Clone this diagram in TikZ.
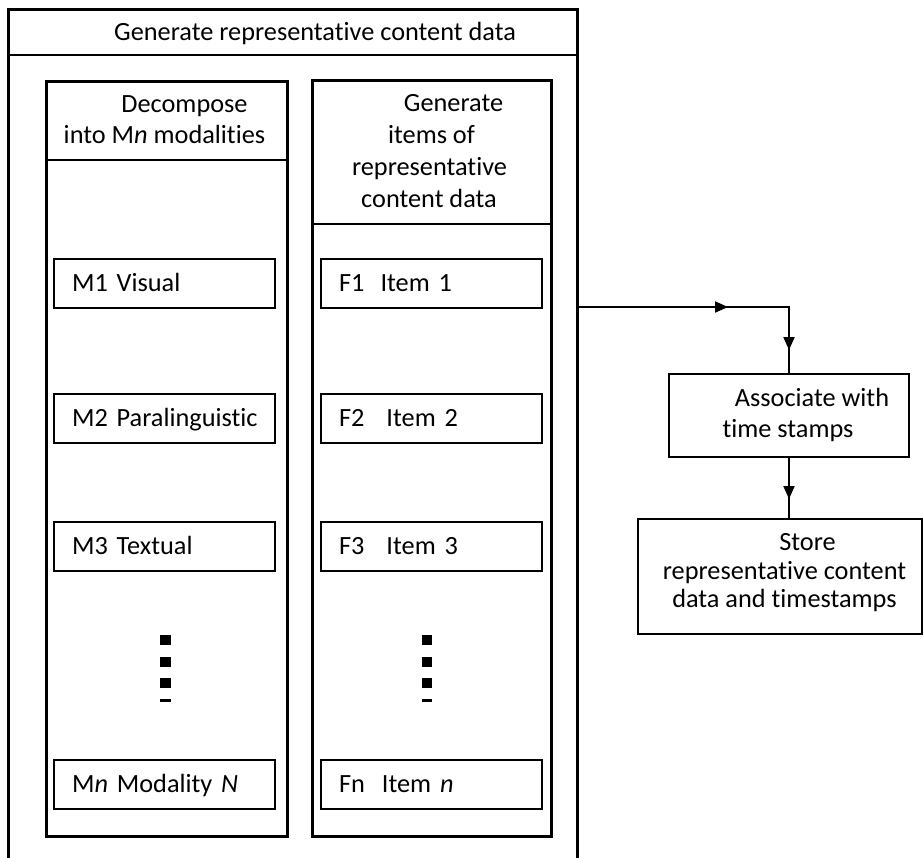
\documentclass[tikz,border=0pt]{standalone}
\usepackage{fontspec}
\setmainfont[Ligatures={NoCommon}]{Carlito}
\usetikzlibrary{arrows.meta,decorations.markings}
\begin{document}
\begin{tikzpicture}[x=1pt,y=-1pt,
  txt/.style={font=\fontsize{26.3}{31}\selectfont, inner sep=0pt, anchor=base},
  colbox/.style={draw, line width=3pt, anchor=north west, inner sep=0pt},
  rule/.style={line width=2pt},
  itembox/.style={draw, line width=2.2pt, anchor=north west,
    inner xsep=18pt, inner ysep=0pt, minimum width=221pt, minimum height=49pt,
    text width=185pt, align=left, text height=16.5pt, text depth=0pt,
    font=\fontsize{26.3}{31}\selectfont,
    execute at begin node={\hbox\bgroup}, execute at end node={\egroup}},
  stepbox/.style={draw, line width=2pt, anchor=north west, inner sep=0pt},
  dot/.style={fill=black},
  flowtip/.tip={Triangle[length=13pt,width=11pt]},
  flow/.style={line width=2pt, postaction={decorate}},
]
\useasboundingbox (0,0) rectangle (923,857);

% outer container, open at the bottom
\draw[line width=3pt] (8,862) -- (8,9) -- (577,9) -- (577,862);
\draw[rule] (8,55) -- (577,55);
\node[txt] (title) at (315,40) {Generate representative content data};

% left column: modalities
\node[colbox, minimum width=241pt, minimum height=755pt] (lcol) at (45,80) {};
\draw[rule] (lcol.west |- 0,160) -- (lcol.east |- 0,160);
\node[txt] (lhead1) at (184.5,112) {Decompose};
\node[txt] (lhead2) at (164.5,143) {into M\textit{n} modalities};

\node[itembox] (m1) at (53,258) {M1 Visual};
\node[itembox] (m2) at (53,393) {M2 Paralinguistic};
\node[itembox] (m3) at (53,521) {M3 Textual};
\node[itembox] (mn) at (53,759) {M\textit{n} Modality \textit{N}};

% right column: items
\node[colbox, minimum width=239pt, minimum height=756pt] (rcol) at (311,79) {};
\draw[rule] (rcol.west |- 0,224) -- (rcol.east |- 0,224);
\node[txt] (rhead1) at (453.5,111) {Generate};
\node[txt] (rhead2) at (431.5,143) {items of};
\node[txt] (rhead3) at (429.5,175) {representative};
\node[txt] (rhead4) at (429,207) {content data};

\node[itembox] (f1) at (320,258) {F1\hspace{16pt}Item 1};
\node[itembox] (f2) at (320,393) {F2\hspace{22pt}Item 2};
\node[itembox] (f3) at (320,521) {F3\hspace{22pt}Item 3};
\node[itembox] (fn) at (320,759) {Fn\hspace{17pt}Item \textit{n}};

% vertical ellipses
\foreach \cx in {165.5,427}{
  \foreach \cy in {640,662,683}{
    \fill[dot] (\cx-5.3,\cy-5) rectangle (\cx+5.3,\cy+5);
  }
  \fill[dot] (\cx-5.3,699) rectangle (\cx+5.3,702);
}

% processing steps on the right
\node[stepbox, minimum width=240pt, minimum height=83pt] (assoc) at (668,373) {};
\node[txt] (assoc1) at (812,406) {Associate with};
\node[txt] (assoc2) at (788,437) {time stamps};

\node[stepbox, minimum width=284pt, minimum height=115pt] (store) at (637,518) {};
\node[txt] (store1) at (807.5,550) {Store};
\node[txt] (store2) at (784.5,579) {representative content};
\node[txt] (store3) at (784.5,607) {data and timestamps};

% connectors
\coordinate (out) at (577,307);
\draw[flow, decoration={markings,
    mark=at position 151pt with {\arrow{flowtip}},
    mark=at position 255pt with {\arrow{flowtip}}}]
  (out) -| (assoc.north);
\draw[flow, decoration={markings,
    mark=at position 41pt with {\arrow{flowtip}}}]
  (assoc.south) -- (assoc.south |- store.north);
\end{tikzpicture}
\end{document}
